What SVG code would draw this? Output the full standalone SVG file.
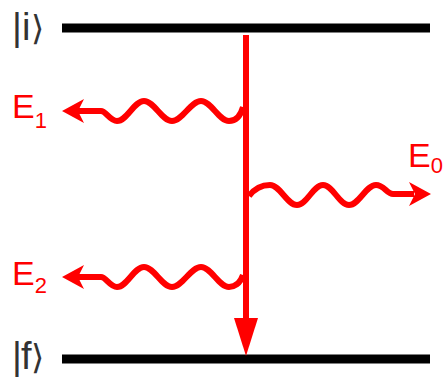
<svg xmlns="http://www.w3.org/2000/svg" width="444" height="380" viewBox="0 0 444 380">
<style>
.lvl{stroke:#000;stroke-width:9;fill:none}
.ket{font-family:"Liberation Sans","DejaVu Sans",sans-serif;font-size:38px;fill:#333}
.lab{font-family:"Liberation Sans",Arial,sans-serif;fill:#f00}
.wave{stroke:#f00;stroke-width:6;fill:none;stroke-linecap:butt;stroke-linejoin:round}
.head{fill:#f00}
</style>
<rect width="444" height="380" fill="#fff"/>
<g id="level-i">
<line class="lvl" x1="62" y1="28" x2="430" y2="28"/>
<text class="ket" y="40"><tspan x="12">|</tspan><tspan x="22">i</tspan><tspan x="31" font-family="DejaVu Sans, sans-serif" font-size="34">⟩</tspan></text>
</g>
<g id="level-f">
<line class="lvl" x1="62" y1="359" x2="430" y2="359"/>
<text class="ket" y="369"><tspan x="12">|</tspan><tspan x="21">f</tspan><tspan x="31" font-family="DejaVu Sans, sans-serif" font-size="34">⟩</tspan></text>
</g>
<g id="connectors">
<g id="transition">
<line class="wave" x1="246" y1="35" x2="246" y2="322"/>
<polygon class="head" points="234,318 258,318 246,356"/>
</g>
<g id="photon-E1">
<path class="wave" d="M243,107 C240,118 234,121 229,121 C219,121 211,101 201,101 C191,101 182,121 172,121 C162,121 154,101 144,101 C134,101 127,121 117,121 C110,121 106,111 101,111 L78,111"/>
<polygon class="head" points="62,111 84,99 78,111 84,123"/>
</g>
<g id="photon-E2">
<path class="wave" d="M243,275 C240,284 234,287 229,287 C219,287 211,267 201,267 C191,267 182,287 172,287 C162,287 154,267 144,267 C134,267 127,287 117,287 C110,287 106,277 101,277 L78,277"/>
<polygon class="head" points="62,277 84,265 78,277 84,289"/>
</g>
<g id="photon-E0">
<path class="wave" d="M249,196 C255,188 262,185 270,185 C280,185 287,205 297,205 C307,205 313,185 323,185 C333,185 339,205 349,205 C359,205 366,185 376,185 C384,185 387,194 393,194 L414,194"/>
<polygon class="head" points="431,194 409,182 415,194 409,206"/>
</g>
</g>
<g id="label-E1"><text class="lab" x="12" y="118" font-size="34">E<tspan font-size="22" dy="10">1</tspan></text></g>
<g id="label-E2"><text class="lab" x="12" y="285" font-size="34">E<tspan font-size="22" dy="8">2</tspan></text></g>
<g id="label-E0"><text class="lab" x="408" y="167" font-size="34">E<tspan font-size="22" dy="6">0</tspan></text></g>
</svg>
